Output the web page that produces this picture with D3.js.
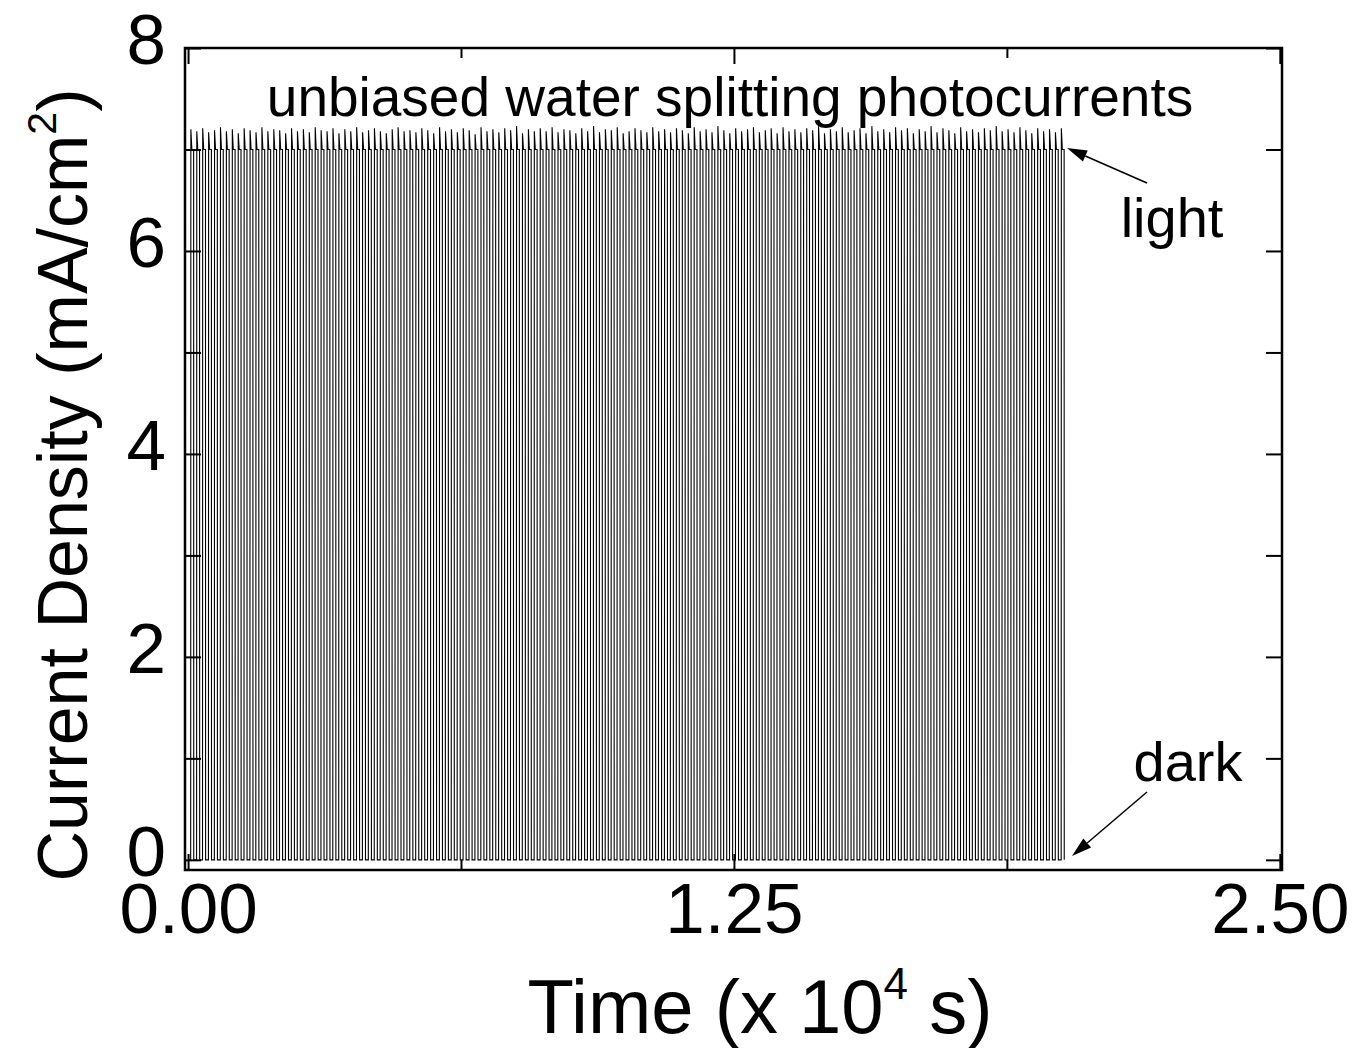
<!DOCTYPE html>
<html>
<head>
<meta charset="utf-8">
<script src="https://cdn.jsdelivr.net/npm/d3@7"></script>
<style>
  body { margin: 0; background: #fff; }
  svg { display: block; }
  text { font-family: "Liberation Sans", Arial, sans-serif; fill: #000; }
</style>
</head>
<body>
<svg id="chart"></svg>
<script>
// time in units of 10^4 s, current density in mA/cm2
const firstPulseStart = 0.006;
const chopPeriod = 0.01356;
const plateauLevel = 7.0;
const darkLevel = 0.0;

// spike height at the start of every light-on period
const spikePeaks = [
  7.20,7.18,7.21,7.17,7.19,7.22,7.18,7.20,7.16,7.21,7.19,7.17,7.22,7.18,7.20,7.19,7.16,7.21,7.18,7.20,
  7.17,7.22,7.19,7.18,7.21,7.16,7.20,7.18,7.22,7.17,7.19,7.21,7.18,7.16,7.20,7.22,7.18,7.19,7.17,7.21,
  7.19,7.16,7.22,7.18,7.20,7.17,7.21,7.19,7.15,7.22,7.18,7.20,7.17,7.21,7.19,7.23,7.16,7.20,7.18,7.21,
  7.18,7.22,7.17,7.20,7.19,7.16,7.21,7.18,7.23,7.17,7.20,7.19,7.22,7.16,7.18,7.21,7.19,7.17,7.22,7.18,
  7.20,7.17,7.21,7.19,7.16,7.22,7.18,7.20,7.17,7.23,7.19,7.16,7.21,7.18,7.20,7.22,7.17,7.19,7.21,7.16,
  7.22,7.18,7.20,7.17,7.21,7.19,7.23,7.16,7.20,7.18,7.22,7.17,7.19,7.21,7.16,7.23,7.18,7.20,7.17,7.22,
  7.19,7.21,7.16,7.20,7.18,7.23,7.17,7.21,7.19,7.16,7.22,7.18,7.20,7.17,7.21,7.19,7.23,7.18,7.20,7.17,
  7.22,7.19,7.16,7.21,7.18,7.20,7.17,7.21
];

const xMajor = [0, 1.25, 2.5];
const xMinor = [0.625, 1.875];
const yMajor = [0, 2, 4, 6, 8];
const yMinor = [1, 3, 5, 7];

const width = 1359, height = 1048;
const frame = { left: 185, right: 1282, top: 48, bottom: 870 };

const svg = d3.select('#chart').attr('width', width).attr('height', height);

const xScale = d3.scaleLinear().domain([-0.007, 2.505]).range([frame.left, frame.right]);
const yScale = d3.scaleLinear().domain([-0.1, 8.0]).range([frame.bottom, frame.top]);

// build the chopped photocurrent trace
const trace = [[0, darkLevel]];
spikePeaks.forEach((pk, i) => {
  const t0 = firstPulseStart + i * chopPeriod;
  trace.push([t0, darkLevel]);
  trace.push([t0 + 0.03 * chopPeriod, pk]);
  trace.push([t0 + 0.2 * chopPeriod, plateauLevel]);
  trace.push([t0 + 0.5 * chopPeriod, plateauLevel]);
  trace.push([t0 + 0.52 * chopPeriod, darkLevel]);
});

const lineGen = d3.line()
  .x(d => xScale(d[0]))
  .y(d => yScale(d[1]));

svg.append('path')
  .attr('d', lineGen(trace))
  .attr('fill', 'none')
  .attr('stroke', '#000')
  .attr('stroke-width', 1.1)
  .attr('stroke-linejoin', 'miter');

// axes: ticks pointing inward on all four sides
const styleAxis = g => {
  g.select('.domain').remove();
  g.selectAll('.tick line').attr('stroke', '#000').attr('stroke-width', 2);
  g.attr('font-size', null).attr('font-family', null);
  g.selectAll('.tick text').style('font-size', '71px');
};

svg.append('g')
  .attr('transform', `translate(0, ${frame.bottom})`)
  .call(d3.axisBottom(xScale).tickValues(xMajor).tickFormat(d3.format('.2f')).tickSize(-16).tickPadding(13))
  .call(styleAxis);
svg.append('g')
  .attr('transform', `translate(0, ${frame.bottom})`)
  .call(d3.axisBottom(xScale).tickValues(xMinor).tickFormat('').tickSize(-10))
  .call(styleAxis);
svg.append('g')
  .attr('transform', `translate(0, ${frame.top})`)
  .call(d3.axisTop(xScale).tickValues(xMajor).tickFormat('').tickSize(-16))
  .call(styleAxis);
svg.append('g')
  .attr('transform', `translate(0, ${frame.top})`)
  .call(d3.axisTop(xScale).tickValues(xMinor).tickFormat('').tickSize(-10))
  .call(styleAxis);

svg.append('g')
  .attr('transform', `translate(${frame.left}, 0)`)
  .call(d3.axisLeft(yScale).tickValues(yMajor).tickFormat(d3.format('d')).tickSize(-16).tickPadding(19))
  .call(styleAxis)
  .selectAll('.tick text').attr('dy', '0.22em');
svg.append('g')
  .attr('transform', `translate(${frame.left}, 0)`)
  .call(d3.axisLeft(yScale).tickValues(yMinor).tickFormat('').tickSize(-16))
  .call(styleAxis);
svg.append('g')
  .attr('transform', `translate(${frame.right}, 0)`)
  .call(d3.axisRight(yScale).tickValues(yMajor.concat(yMinor)).tickFormat('').tickSize(-16))
  .call(styleAxis);

svg.append('rect')
  .attr('x', frame.left).attr('y', frame.top)
  .attr('width', frame.right - frame.left).attr('height', frame.bottom - frame.top)
  .attr('fill', 'none').attr('stroke', '#000').attr('stroke-width', 2.5);

// axis titles
const xTitle = svg.append('text')
  .attr('x', 760).attr('y', 1033)
  .attr('text-anchor', 'middle')
  .style('font-size', '76px');
xTitle.append('tspan').text('Time (x 10');
xTitle.append('tspan').text('4').attr('dy', -34).style('font-size', '44px');
xTitle.append('tspan').text(' s)').attr('dy', 34);

const yTitle = svg.append('text')
  .attr('transform', 'translate(87, 485) rotate(-90)')
  .attr('text-anchor', 'middle')
  .style('font-size', '70px');
yTitle.append('tspan').text('Current Density (mA/cm');
yTitle.append('tspan').text('2').attr('dy', -31).style('font-size', '41px');
yTitle.append('tspan').text(')').attr('dy', 31);

// annotations
svg.append('text')
  .text('unbiased water splitting photocurrents')
  .attr('x', 730).attr('y', 116)
  .attr('text-anchor', 'middle')
  .style('font-size', '55px');

svg.append('text')
  .text('light')
  .attr('x', 1172).attr('y', 237)
  .attr('text-anchor', 'middle')
  .style('font-size', '56px');

svg.append('text')
  .text('dark')
  .attr('x', 1188).attr('y', 781)
  .attr('text-anchor', 'middle')
  .style('font-size', '56px');

const arrow = (x1, y1, x2, y2) => {
  const ang = Math.atan2(y2 - y1, x2 - x1);
  const len = 20, half = 6;
  const bx = x2 - len * Math.cos(ang), by = y2 - len * Math.sin(ang);
  svg.append('line')
    .attr('x1', x1).attr('y1', y1).attr('x2', bx).attr('y2', by)
    .attr('stroke', '#000').attr('stroke-width', 1.5);
  svg.append('path')
    .attr('d', d3.line()([
      [x2, y2],
      [bx + half * Math.sin(ang), by - half * Math.cos(ang)],
      [bx - half * Math.sin(ang), by + half * Math.cos(ang)]
    ]) + 'Z')
    .attr('fill', '#000');
};
arrow(1147, 183, 1067, 148);
arrow(1147, 792, 1072, 856);
</script>
</body>
</html>
